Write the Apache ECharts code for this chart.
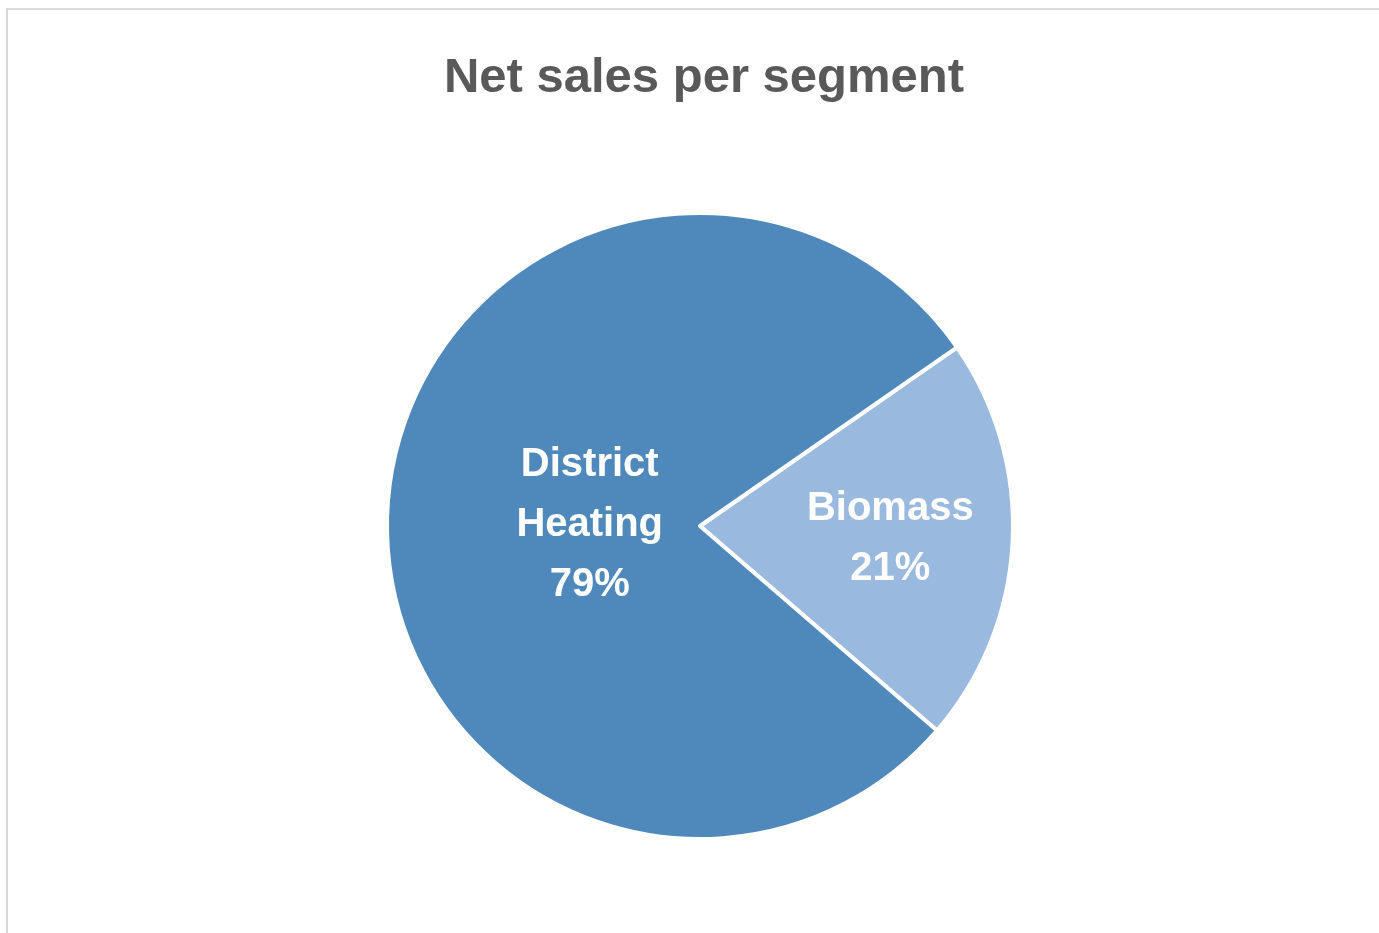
<!DOCTYPE html>
<html>
<head>
<meta charset="utf-8">
<script src="https://cdn.jsdelivr.net/npm/echarts@6/dist/echarts.min.js"></script>
<style>
  html, body { margin: 0; padding: 0; background: #ffffff; }
  #frame { position: absolute; left: 6px; top: 8px; width: 1373px; height: 925px;
           border-top: 2px solid #d9d9d9; border-left: 2px solid #d9d9d9; box-sizing: border-box; }
  #chart { position: absolute; left: 0; top: 0; width: 1379px; height: 933px; }
</style>
</head>
<body>
<div id="frame"></div>
<div id="chart"></div>
<script>
// Net sales split by business segment (share of total, %)
const segments = ['Biomass', 'District Heating'];
const shares = [21, 79];
const sliceColors = ['#9ab9df', '#4f89bb'];
const labelOffsets = [[31, 5], [49, 7]];

const chart = echarts.init(document.getElementById('chart'), null, { renderer: 'canvas' });

chart.setOption({
  animation: false,
  title: {
    text: 'Net sales per segment',
    left: 699,
    textAlign: 'center',
    top: 49,
    textStyle: {
      fontFamily: 'Liberation Sans, Arial, sans-serif',
      fontSize: 49,
      fontWeight: 'bold',
      color: '#595959'
    }
  },
  series: [{
    type: 'pie',
    center: [700, 526],
    radius: [0, 313],
    startAngle: 34.8,
    clockwise: true,
    label: {
      show: true,
      position: 'inside',
      formatter: p => p.name.replace(' ', '\n') + '\n' + p.percent.toFixed(0) + '%',
      color: '#ffffff',
      fontFamily: 'Liberation Sans, Arial, sans-serif',
      fontSize: 40,
      fontWeight: 'bold',
      lineHeight: 60,
      align: 'center'
    },
    labelLine: { show: false },
    itemStyle: { borderColor: '#ffffff', borderWidth: 4 },
    emphasis: { disabled: true },
    data: segments.map((name, i) => ({
      name: name,
      value: shares[i],
      itemStyle: { color: sliceColors[i] },
      label: { offset: labelOffsets[i] }
    }))
  }]
});
</script>
</body>
</html>
